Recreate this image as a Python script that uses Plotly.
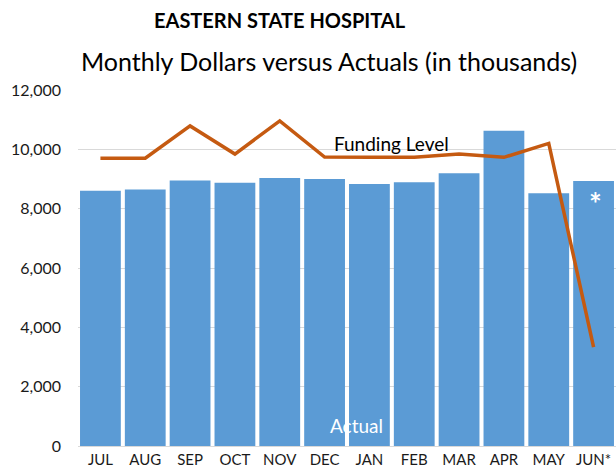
import plotly.graph_objects as go

months = ["JUL", "AUG", "SEP", "OCT", "NOV", "DEC", "JAN", "FEB", "MAR", "APR", "MAY", "JUN*"]
actual = [8600, 8650, 8950, 8870, 9030, 9000, 8830, 8890, 9190, 10630, 8520, 8930]
funding = [9700, 9700, 10790, 9840, 10960, 9740, 9730, 9730, 9840, 9730, 10200, 3330]
y_ticks = [0, 2000, 4000, 6000, 8000, 10000, 12000]

FONT = "Lato"
W, H = 616, 475
L, R, T, B = 78, 0, 90, 29


def px_x(x):
    return (x - L) / (W - L - R)


def px_y(y):
    return (H - B - y) / (H - B - T)


fig = go.Figure()
fig.add_trace(go.Bar(x=months, y=actual, name="Actual", marker=dict(color="#5B9BD5", line=dict(width=0))))
fig.add_trace(go.Scatter(x=months, y=funding, name="Funding Level", mode="lines",
                         line=dict(color="#C55A11", width=3.5)))

fig.update_layout(
    width=W, height=H,
    margin=dict(l=L, r=R, t=T, b=B, autoexpand=False),
    paper_bgcolor="white", plot_bgcolor="white",
    showlegend=False,
    bargap=0.09,
    font=dict(family=FONT, color="#000000", size=15),
    xaxis=dict(type="category", tickfont=dict(size=15, color="#1a1a1a"), showgrid=False,
               ticks="", showline=True, linecolor="#D9D9D9", linewidth=1, automargin=False),
    yaxis=dict(range=[0, 12000], tickvals=y_ticks, tickformat=",d", showgrid=True,
               gridcolor="#D9D9D9", gridwidth=1, zeroline=False, ticks="", automargin=False,
               tickfont=dict(size=16, color="#1a1a1a"), ticklabelstandoff=16),
    annotations=[
        dict(text="<b>EASTERN STATE HOSPITAL</b>", x=px_x(280), y=px_y(20), xref="paper", yref="paper",
             xanchor="center", yanchor="middle", showarrow=False, font=dict(size=20, family=FONT)),
        dict(text="Monthly Dollars versus Actuals (in thousands)", x=px_x(329), y=px_y(61),
             xref="paper", yref="paper", xanchor="center", yanchor="middle",
             showarrow=False, font=dict(size=25, family=FONT)),
        dict(text="Funding Level", x=px_x(391), y=px_y(143), xref="paper", yref="paper",
             xanchor="center", yanchor="middle",
             showarrow=False, font=dict(size=19, family=FONT, color="#000000")),
        dict(text="Actual", x=px_x(356), y=px_y(425), xref="paper", yref="paper",
             xanchor="center", yanchor="middle",
             showarrow=False, font=dict(size=19, family=FONT, color="white")),
        dict(text="<b>*</b>", x=px_x(595), y=px_y(203), xref="paper", yref="paper",
             xanchor="center", yanchor="middle",
             showarrow=False, font=dict(size=30, family=FONT, color="white")),
    ],
)

fig.write_html("out.html", config={"displayModeBar": False},
               post_script="document.body.style.margin='0';")
